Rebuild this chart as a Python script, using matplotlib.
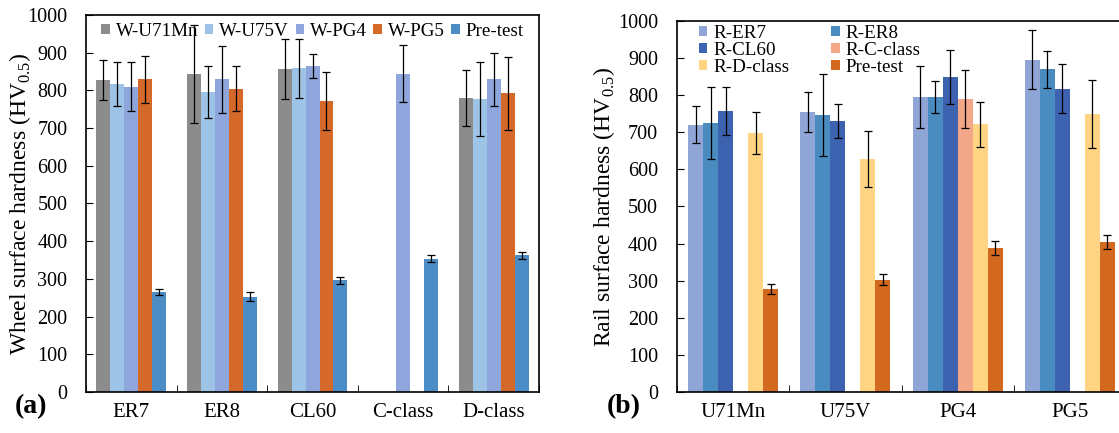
import numpy as np
import matplotlib
matplotlib.use("Agg")
import matplotlib.pyplot as plt

plt.rcParams['font.family'] = ['Liberation Serif', 'DejaVu Serif']
plt.rcParams['mathtext.fontset'] = 'custom'
plt.rcParams['mathtext.rm'] = 'Liberation Serif'

nan = np.nan

# (a) wheel hardness
wheel_groups = ['ER7', 'ER8', 'CL60', 'C-class', 'D-class']
wheel_names = ['W-U71Mn', 'W-U75V', 'W-PG4', 'W-PG5', 'Pre-test']
wheel_colors = ['#8c8c8c', '#9dc3e6', '#8fa6dc', '#d4692a', '#4d8dc6']
w_u71mn = [827, 844, 857, nan, 780]
w_u71mn_err = [53, 130, 80, nan, 74]
w_u75v = [816, 797, 859, nan, 777]
w_u75v_err = [58, 69, 78, nan, 98]
w_pg4 = [810, 829, 865, 844, 829]
w_pg4_err = [66, 90, 32, 76, 70]
w_pg5 = [829, 804, 773, nan, 792]
w_pg5_err = [62, 60, 77, nan, 97]
w_pre = [264, 253, 296, 354, 363]
w_pre_err = [8, 12, 9, 10, 9]

# (b) rail hardness
rail_groups = ['U71Mn', 'U75V', 'PG4', 'PG5']
rail_names = ['R-ER7', 'R-ER8', 'R-CL60', 'R-C-class', 'R-D-class', 'Pre-test']
rail_colors = ['#8fa5d6', '#4a8bc0', '#3d63b0', '#f2a788', '#ffd583', '#d2691e']
r_er7 = [721, 755, 795, 896]
r_er7_err = [51, 53, 84, 80]
r_er8 = [725, 746, 795, 870]
r_er8_err = [98, 110, 44, 50]
r_cl60 = [758, 731, 850, 818]
r_cl60_err = [65, 46, 73, 66]
r_cclass = [nan, nan, 790, nan]
r_cclass_err = [nan, nan, 79, nan]
r_dclass = [698, 628, 722, 749]
r_dclass_err = [56, 75, 61, 92]
r_pre = [277, 303, 389, 404]
r_pre_err = [13, 15, 19, 19]

fig = plt.figure(figsize=(11.19, 4.33), dpi=100)
ax1 = fig.add_axes([0.0769, 0.0947, 0.4048, 0.8707])
ax2 = fig.add_axes([0.605, 0.0947, 0.4013, 0.8568])


def draw(ax, groups, names, colors, vals, errs, total):
    x = np.arange(len(groups))
    n = len(names)
    w = total / n
    for i in range(n):
        pos = x + (i - (n - 1) / 2) * w
        ax.bar(pos, vals[i], w, color=colors[i], label=names[i])
        ax.errorbar(pos, vals[i], yerr=errs[i], fmt='none', ecolor='black',
                    elinewidth=0.9, capsize=3, capthick=0.9)
    ax.set_xlim(-0.5, len(groups) - 0.5)
    ax.set_ylim(0, 1000)
    ax.set_yticks(range(0, 1001, 100))
    ax.set_xticks(x)
    ax.set_xticklabels(groups)
    ax.set_xticks(np.arange(len(groups) + 1) - 0.5, minor=True)
    ax.tick_params(axis='x', which='major', length=0, pad=8, labelsize=15)
    ax.tick_params(axis='x', which='minor', direction='in', length=5)
    ax.tick_params(axis='y', direction='in', length=5, labelsize=14.5, pad=13.5)
    for s in ax.spines.values():
        s.set_linewidth(1.2)


draw(ax1, wheel_groups, wheel_names, wheel_colors,
     [w_u71mn, w_u75v, w_pg4, w_pg5, w_pre],
     [w_u71mn_err, w_u75v_err, w_pg4_err, w_pg5_err, w_pre_err], 0.77)
draw(ax2, rail_groups, rail_names, rail_colors,
     [r_er7, r_er8, r_cl60, r_cclass, r_dclass, r_pre],
     [r_er7_err, r_er8_err, r_cl60_err, r_cclass_err, r_dclass_err, r_pre_err], 0.8)

ax1.set_ylabel(r'Wheel surface hardness (HV$_{0.5}$)', fontsize=17, labelpad=-4)
ax2.set_ylabel(r'Rail surface hardness (HV$_{0.5}$)', fontsize=17, labelpad=1)

ax1.legend(loc='upper center', ncol=5, frameon=False, fontsize=13.7,
           handlelength=0.45, handleheight=0.45, handletextpad=0.3,
           columnspacing=0.35, borderaxespad=0.25, borderpad=0.15,
           bbox_to_anchor=(0.5, 1.0))

# legend reads row by row in the reference
h, l = ax2.get_legend_handles_labels()
order = [0, 2, 4, 1, 3, 5]
ax2.legend([h[i] for i in order], [l[i] for i in order],
           loc='upper left', ncol=2, frameon=False, fontsize=13.7,
           handlelength=0.45, handleheight=0.45, handletextpad=0.3,
           columnspacing=2.2, labelspacing=0.0, borderaxespad=0.2, borderpad=0,
           bbox_to_anchor=(0.04, 1.0))

fig.text(0.0134, 0.06, '(a)', fontsize=20, fontweight='bold', va='center')
fig.text(0.5424, 0.06, '(b)', fontsize=20, fontweight='bold', va='center')

fig.savefig('out.png', dpi=100)
